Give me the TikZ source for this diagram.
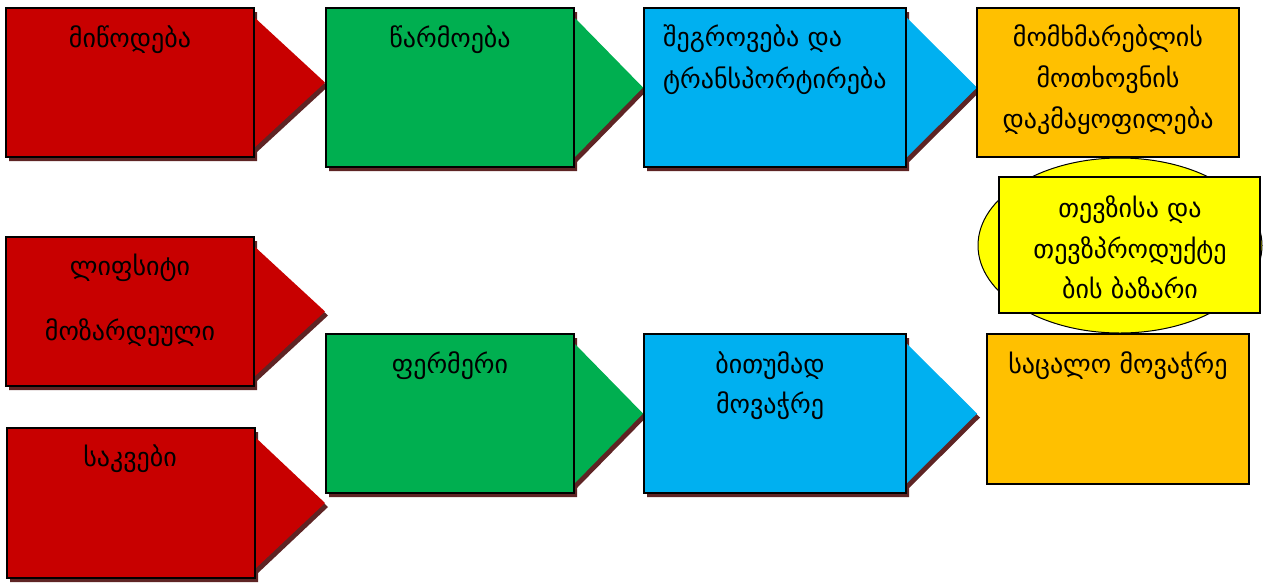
\documentclass[tikz,border=0pt]{standalone}
\usepackage{fontspec}
\newfontfamily\geo{DejaVu Sans}
\definecolor{cred}{HTML}{C80000}
\definecolor{cgreen}{HTML}{00AF50}
\definecolor{cblue}{HTML}{00B0F0}
\definecolor{corange}{HTML}{FFC000}
\definecolor{cyellow}{HTML}{FFFF00}
\definecolor{cshadow}{HTML}{5E2424}
\newcommand\chevshape[6]{%
  \pgfmathsetmacro\chya{#2+9}%
  \pgfmathsetmacro\chyb{#4-9}%
  \pgfmathsetmacro\chym{(#2+#4)/2}%
  \begin{scope}[shift={(3,4)}]
    \fill[cshadow] (#1,#2) -- (#3,#2) -- (#3,\chya) -- (#5,\chym) -- (#3,\chyb) -- (#3,#4) -- (#1,#4) -- cycle;
  \end{scope}
  \fill[#6] (#1,#2) -- (#3,#2) -- (#3,\chya) -- (#5,\chym) -- (#3,\chyb) -- (#3,#4) -- (#1,#4) -- cycle;
  \draw[boxline] (#1,#2) rectangle (#3,#4);
}
\begin{document}
\begin{tikzpicture}[x=1pt,y=-1pt,
  boxline/.style={draw=black,line width=2pt},
  thinline/.style={draw=black,line width=1.5pt},
  lbl/.style={font=\geo\fontsize{26}{26}\selectfont,anchor=base,inner sep=0pt}]
\useasboundingbox (0,0) rectangle (1266,582);
% top row
\chevshape{6}{8}{254}{157}{325}{cred}
\chevshape{326}{8}{574}{167}{643}{cgreen}
\chevshape{644}{8}{906}{167}{977}{cblue}
\draw[thinline,fill=corange] (977,8) rectangle (1239,157);
% ellipse and market
\draw[black,line width=1pt,fill=cyellow] (1120,245.5) ellipse [x radius=142, y radius=87.5];
\draw[thinline,fill=cyellow] (999,177) rectangle (1260,313);
% bottom rows
\chevshape{6}{237}{254}{386}{325}{cred}
\chevshape{7}{428}{255}{578}{325}{cred}
\chevshape{326}{334}{574}{493}{643}{cgreen}
\chevshape{644}{334}{906}{493}{977}{cblue}
\draw[thinline,fill=corange] (987,334) rectangle (1249,484);
% labels
\node[lbl] (t1) at (130,47) {მიწოდება};
\node[lbl] (t2) at (450,47) {წარმოება};
\node[lbl,anchor=base west] (t3a) at (663,46) {შეგროვება და};
\node[lbl,anchor=base west] (t3b) at (663,88) {ტრანსპორტირება};
\node[lbl] (t4a) at (1108,46) {მომხმარებლის};
\node[lbl] (t4b) at (1108,87) {მოთხოვნის};
\node[lbl] (t4c) at (1108,128) {დაკმაყოფილება};
\node[lbl] (y1) at (1130,217) {თევზისა და};
\node[lbl] (y2) at (1130,258) {თევზპროდუქტე};
\node[lbl] (y3) at (1130,298) {ბის ბაზარი};
\node[lbl] (r2a) at (130,275) {ლიფსიტი};
\node[lbl] (r2b) at (130,340) {მოზარდეული};
\node[lbl] (r3) at (130,466) {საკვები};
\node[lbl] (g2) at (450,373) {ფერმერი};
\node[lbl] (b2a) at (770,373) {ბითუმად};
\node[lbl] (b2b) at (770,413) {მოვაჭრე};
\node[lbl] (o2) at (1118,373) {საცალო მოვაჭრე};
\end{tikzpicture}
\end{document}
